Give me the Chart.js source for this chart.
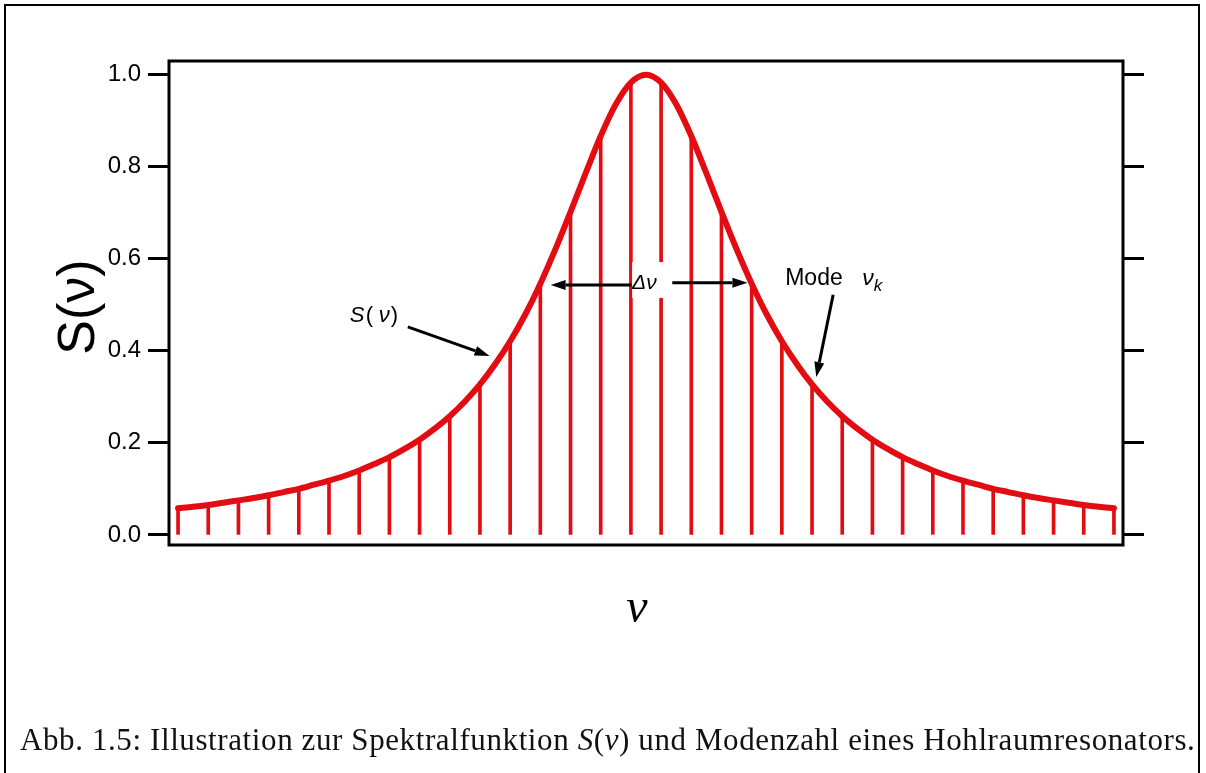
<!DOCTYPE html>
<html>
<head>
<meta charset="utf-8">
<script src="https://cdn.jsdelivr.net/npm/chart.js@4.4.1/dist/chart.umd.min.js"></script>
<style>
  html, body { margin: 0; padding: 0; background: #fff; }
  #page { position: relative; width: 1206px; height: 773px; overflow: hidden; }
  #frame { position: absolute; left: 4px; top: 4px; width: 1196px; height: 800px; border: 2px solid #000; box-sizing: border-box; }
  #plot { position: absolute; left: 0; top: 0; }
  #caption {
    position: absolute; left: 20px; top: 722px; white-space: nowrap;
    font-family: "Liberation Serif", "DejaVu Serif", serif; font-size: 31px;
    letter-spacing: 0.6px; color: #111;
  }
  #caption i { font-style: italic; }
</style>
</head>
<body>
<div id="page">
  <div id="frame"></div>
  <canvas id="plot" width="1206" height="773"></canvas>
  <div id="caption">Abb. 1.5: Illustration zur Spektralfunktion <i>S</i>(<i>ν</i>) und Modenzahl eines Hohlraumresonators.</div>
</div>
<script>
// mode index k = 0..31, stem heights S(nu_k)
const modeIndex = [0, 1, 2, 3, 4, 5, 6, 7, 8, 9, 10, 11, 12, 13, 14, 15,
  16, 17, 18, 19, 20, 21, 22, 23, 24, 25, 26, 27, 28, 29, 30, 31];
const modeHeight = [0.058, 0.065, 0.075, 0.086, 0.100, 0.118, 0.140, 0.169,
  0.207, 0.258, 0.327, 0.421, 0.546, 0.702, 0.867, 0.983,
  0.983, 0.867, 0.702, 0.546, 0.421, 0.327, 0.258, 0.207,
  0.169, 0.140, 0.118, 0.100, 0.086, 0.075, 0.065, 0.058];

// spectral function sampled every half mode spacing
const curveNu = [0, 0.5, 1, 1.5, 2, 2.5, 3, 3.5, 4, 4.5, 5, 5.5, 6, 6.5, 7, 7.5,
  8, 8.5, 9, 9.5, 10, 10.5, 11, 11.5, 12, 12.5, 13, 13.5, 14, 14.5, 15, 15.5,
  16, 16.5, 17, 17.5, 18, 18.5, 19, 19.5, 20, 20.5, 21, 21.5, 22, 22.5, 23, 23.5,
  24, 24.5, 25, 25.5, 26, 26.5, 27, 27.5, 28, 28.5, 29, 29.5, 30, 30.5, 31];
const curveS = [0.058, 0.061, 0.065, 0.070, 0.075, 0.080, 0.086, 0.093, 0.100, 0.109,
  0.118, 0.128, 0.140, 0.154, 0.169, 0.187, 0.207, 0.231, 0.258, 0.290,
  0.327, 0.371, 0.421, 0.479, 0.546, 0.621, 0.702, 0.786, 0.867, 0.936,
  0.983, 1.000, 0.983, 0.936, 0.867, 0.786, 0.702, 0.621, 0.546, 0.479,
  0.421, 0.371, 0.327, 0.290, 0.258, 0.231, 0.207, 0.187, 0.169, 0.154,
  0.140, 0.128, 0.118, 0.109, 0.100, 0.093, 0.086, 0.080, 0.075, 0.070,
  0.065, 0.061, 0.058];

const yTicks = [0, 0.2, 0.4, 0.6, 0.8, 1.0];

const RED = "rgb(226,12,18)";
const SANS = '"Liberation Sans", Arial, sans-serif';
const SERIF = '"Liberation Serif", "DejaVu Serif", serif';

function arrow(ctx, x1, y1, x2, y2) {
  const ang = Math.atan2(y2 - y1, x2 - x1);
  const len = 15, half = 5;
  const bx = x2 - len * Math.cos(ang), by = y2 - len * Math.sin(ang);
  ctx.beginPath();
  ctx.moveTo(x1, y1);
  ctx.lineTo(bx, by);
  ctx.stroke();
  ctx.beginPath();
  ctx.moveTo(x2, y2);
  ctx.lineTo(bx + half * Math.sin(ang), by - half * Math.cos(ang));
  ctx.lineTo(bx - half * Math.sin(ang), by + half * Math.cos(ang));
  ctx.closePath();
  ctx.fill();
}

const annotations = {
  id: "annotations",
  afterDatasetsDraw(chart) {
    const { ctx, scales: { x, y } } = chart;
    const X = (v) => x.getPixelForValue(v);
    const Y = (v) => y.getPixelForValue(v);
    ctx.save();
    // label box for the line width, cuts through the stems
    ctx.fillStyle = "#fff";
    ctx.fillRect(X(15.04), Y(0.593), X(16.22) - X(15.04), Y(0.515) - Y(0.593));
    ctx.fillStyle = "#000";
    ctx.strokeStyle = "#000";
    ctx.lineWidth = 3;
    ctx.textBaseline = "alphabetic";
    ctx.font = "italic 21px " + SANS;
    ctx.fillText("Δν", X(15.04), Y(0.535));
    arrow(ctx, X(15.02), Y(0.543), X(12.34), Y(0.543));
    arrow(ctx, X(16.37), Y(0.548), X(18.86), Y(0.548));

    // S(nu) label with arrow onto the curve
    const sx = X(5.69), sy = Y(0.463);
    ctx.font = "italic 22px " + SANS;
    ctx.fillText("S", sx, sy);
    ctx.font = "22px " + SANS;
    ctx.fillText("(", sx + 16, sy);
    ctx.font = "italic 22px " + SANS;
    ctx.fillText("ν", sx + 29, sy);
    ctx.font = "22px " + SANS;
    ctx.fillText(")", sx + 41, sy);
    arrow(ctx, X(7.61), Y(0.452), X(10.32), Y(0.389));

    // mode label
    ctx.font = "23px " + SANS;
    ctx.fillText("Mode", X(20.11), Y(0.543));
    ctx.font = "italic 23px " + SANS;
    ctx.fillText("ν", X(22.66), Y(0.543));
    ctx.font = "italic 17px " + SANS;
    ctx.fillText("k", X(23.04), Y(0.530));
    arrow(ctx, X(21.70), Y(0.522), X(21.14), Y(0.343));

    ctx.restore();
  },
  afterDraw(chart) {
    const { ctx, chartArea: a } = chart;
    ctx.save();
    ctx.strokeStyle = "#000";
    ctx.lineWidth = 3;
    ctx.strokeRect(a.left, a.top, a.right - a.left, a.bottom - a.top);

    // axis titles
    ctx.fillStyle = "#000";
    ctx.textAlign = "center";
    ctx.textBaseline = "middle";
    ctx.save();
    ctx.translate(80, 307);
    ctx.rotate(-Math.PI / 2);
    ctx.font = "52px " + SANS;
    ctx.fillText("S(ν)", 0, 0);
    ctx.restore();
    ctx.font = "italic 48px " + SERIF;
    ctx.textBaseline = "alphabetic";
    ctx.fillText("ν", 637, 622);
    ctx.restore();
  }
};

const yAxisCommon = {
  min: -0.022,
  max: 1.03,
  afterBuildTicks: (s) => { s.ticks = yTicks.map((v) => ({ value: v })); },
  border: { display: false },
  grid: { drawOnChartArea: false, drawTicks: true, tickLength: 21, tickWidth: 3, tickColor: "#000" },
};

new Chart(document.getElementById("plot"), {
  data: {
    datasets: [
      {
        type: "line",
        label: "S(ν)",
        data: curveNu.map((v, i) => ({ x: v, y: curveS[i] })),
        borderColor: RED,
        borderWidth: 6,
        borderCapStyle: "round",
        borderJoinStyle: "round",
        cubicInterpolationMode: "monotone",
        pointRadius: 0,
        order: 0,
      },
      {
        type: "bar",
        label: "Moden",
        data: modeIndex.map((k, i) => ({ x: k, y: modeHeight[i] })),
        backgroundColor: RED,
        barThickness: 3,
        grouped: false,
        order: 1,
      },
    ],
  },
  options: {
    responsive: false,
    animation: false,
    devicePixelRatio: 1,
    layout: { padding: { top: 61, left: 0, right: 0, bottom: 0 } },
    plugins: { legend: { display: false }, tooltip: { enabled: false } },
    scales: {
      x: {
        type: "linear",
        offset: false,
        min: -0.3,
        max: 31.3,
        ticks: { display: false },
        grid: { display: false, offset: false },
        border: { display: false },
        afterFit: (s) => { s.height = 228; },
      },
      y: {
        ...yAxisCommon,
        position: "left",
        ticks: {
          color: "#000",
          padding: 7,
          font: { family: SANS, size: 24 },
          callback: (v) => v.toFixed(1),
        },
        afterFit: (s) => { s.width = 169; },
      },
      y2: {
        ...yAxisCommon,
        position: "right",
        ticks: { display: false },
        afterFit: (s) => { s.width = 83; },
      },
    },
  },
  plugins: [annotations],
});
</script>
</body>
</html>
